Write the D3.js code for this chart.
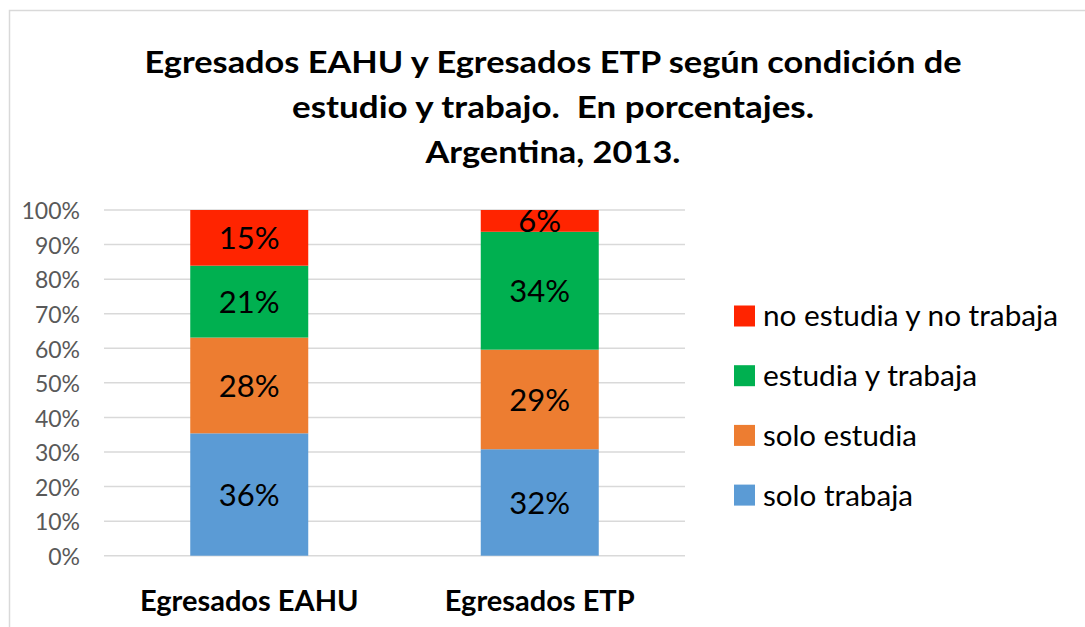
<!DOCTYPE html>
<html>
<head>
<meta charset="utf-8">
<script src="https://cdn.jsdelivr.net/npm/d3@7"></script>
<style>
  body { margin: 0; background: #fff; }
  text { font-family: Lato, "Open Sans", sans-serif; }
</style>
</head>
<body>
<div id="container"></div>
<script>
const categories = ["Egresados EAHU", "Egresados ETP"];
const seriesNames = ["solo trabaja", "solo estudia", "estudia y trabaja", "no estudia y no trabaja"];
const seriesColors = ["#5B9BD5", "#ED7D31", "#00B050", "#FF2400"];
// segment heights (percent)
const soloTrabaja = [35.4, 30.8];
const soloEstudia = [27.7, 28.8];
const estudiaYTrabaja = [20.8, 34.1];
const noEstudiaNoTrabaja = [16.1, 6.3];
// labels as printed on the chart
const labelsSoloTrabaja = ["36%", "32%"];
const labelsSoloEstudia = ["28%", "29%"];
const labelsEstudiaYTrabaja = ["21%", "34%"];
const labelsNoEstudia = ["15%", "6%"];
const yTicks = [0, 10, 20, 30, 40, 50, 60, 70, 80, 90, 100];
const titleLines = ["Egresados EAHU y Egresados ETP según condición de", "estudio y trabajo.  En porcentajes.", "Argentina, 2013."];

const width = 1085, height = 627;
const margin = { top: 210, right: 400, bottom: 71, left: 104 };

const seriesValues = [soloTrabaja, soloEstudia, estudiaYTrabaja, noEstudiaNoTrabaja];
const seriesLabels = [labelsSoloTrabaja, labelsSoloEstudia, labelsEstudiaYTrabaja, labelsNoEstudia];

const table = categories.map((c, i) => {
    let row = { cat: c };
    seriesNames.forEach((s, j) => { row[s] = seriesValues[j][i]; });
    return row;
});
const stacked = d3.stack().keys(seriesNames)(table);

let svg = d3.select("#container").append("svg")
    .attr("width", width)
    .attr("height", height);

// chart frame (only top/left edges visible in the crop)
svg.append("rect")
    .attr("x", 9.5).attr("y", 10.5)
    .attr("width", width + 20).attr("height", height + 20)
    .attr("fill", "none")
    .attr("stroke", "#D9D9D9")
    .attr("stroke-width", 1.5);

let x = d3.scaleBand()
    .domain(categories)
    .range([margin.left, width - margin.right]);

let y = d3.scaleLinear()
    .domain([0, 100])
    .range([height - margin.bottom - 0.3, margin.top]);

const barWidth = 118;

// gridlines
svg.append("g")
    .selectAll("line")
    .data(yTicks)
    .enter()
    .append("line")
    .attr("x1", x.range()[0])
    .attr("x2", x.range()[1])
    .attr("y1", d => y(d))
    .attr("y2", d => y(d))
    .attr("stroke", "#D9D9D9")
    .attr("stroke-width", 1.5);

// y axis labels
let yAxis = svg.append("g")
    .attr("transform", `translate(${margin.left},0)`)
    .call(d3.axisLeft(y).tickValues(yTicks).tickFormat(d => d + "%").tickSize(0).tickPadding(24));
yAxis.select(".domain").remove();
yAxis.selectAll("text")
    .attr("fill", "#595959")
    .style("font-family", "Lato, sans-serif")
    .style("font-size", "23px")
    .attr("dy", "0.38em");

// bars
let layers = svg.append("g")
    .selectAll("g")
    .data(stacked)
    .enter()
    .append("g")
    .attr("fill", (d, i) => seriesColors[i]);

layers.selectAll("rect")
    .data(d => d)
    .enter()
    .append("rect")
    .attr("x", d => x(d.data.cat) + x.bandwidth() / 2 - barWidth / 2)
    .attr("width", barWidth)
    .attr("y", d => y(d[1]))
    .attr("height", d => y(d[0]) - y(d[1]));

// data labels
layers.each(function (layer, li) {
    d3.select(this).selectAll("text")
        .data(layer)
        .enter()
        .append("text")
        .attr("x", d => x(d.data.cat) + x.bandwidth() / 2)
        .attr("y", d => (y(d[0]) + y(d[1])) / 2)
        .attr("dy", "0.36em")
        .attr("text-anchor", "middle")
        .attr("fill", "#000")
        .style("font-size", "31px")
        .text((d, i) => seriesLabels[li][i]);
});

// category labels
svg.append("g")
    .selectAll("text")
    .data(categories)
    .enter()
    .append("text")
    .attr("x", d => x(d) + x.bandwidth() / 2)
    .attr("y", 611)
    .attr("text-anchor", "middle")
    .attr("font-weight", "bold")
    .attr("fill", "#000")
    .style("font-size", "29px")
    .text(d => d);

// title
const titleWidths = [817, 522, 255];
svg.append("g")
    .selectAll("text")
    .data(titleLines)
    .enter()
    .append("text")
    .attr("x", 553)
    .attr("y", (d, i) => 73 + i * 45)
    .attr("text-anchor", "middle")
    .attr("font-weight", "bold")
    .attr("fill", "#000")
    .style("font-size", "31px")
    .style("white-space", "pre")
    .attr("textLength", (d, i) => titleWidths[i])
    .attr("lengthAdjust", "spacingAndGlyphs")
    .text(d => d);

// legend, top to bottom in reverse series order
const legendOrder = [3, 2, 1, 0];
const legendWidths = [295, 214, 154, 150];
let legend = svg.append("g")
    .selectAll("g")
    .data(legendOrder)
    .enter()
    .append("g")
    .attr("transform", (d, i) => `translate(734,${316 + i * 59.7})`);

legend.append("rect")
    .attr("x", 0).attr("y", -10.5)
    .attr("width", 21).attr("height", 21)
    .attr("fill", d => seriesColors[d]);

legend.append("text")
    .attr("x", 29)
    .attr("y", 0)
    .attr("dy", "0.36em")
    .attr("fill", "#000")
    .style("font-size", "29px")
    .attr("textLength", (d, i) => legendWidths[i])
    .attr("lengthAdjust", "spacingAndGlyphs")
    .text(d => seriesNames[d]);
</script>
</body>
</html>
